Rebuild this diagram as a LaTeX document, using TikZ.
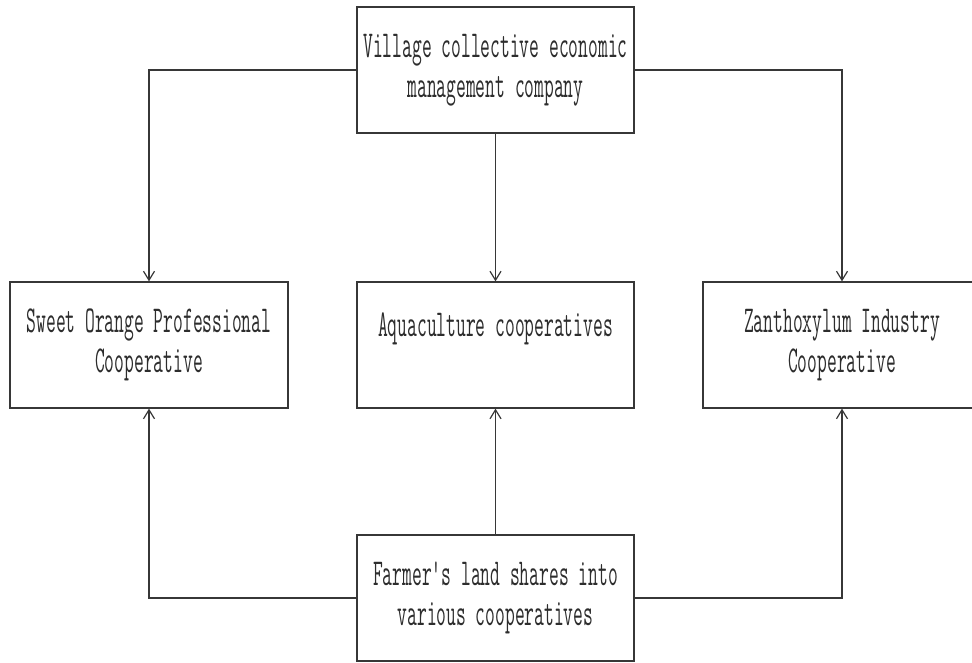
\documentclass[tikz,border=0pt]{standalone}
\usepackage{fontspec}
\setmonofont[FakeStretch=0.5]{Latin Modern Mono}
\usetikzlibrary{arrows.meta,positioning}
\definecolor{LineGray}{RGB}{55,55,55}
\definecolor{TextGray}{RGB}{45,45,45}
\tikzset{
  unit/.style={draw=LineGray,line width=1.3pt,fill=white,minimum width=277pt,
    minimum height=126pt,align=center,inner sep=0pt,text=TextGray,
    font=\ttfamily\fontsize{38}{40}\selectfont},
  link/.style={-{Straight Barb[length=9pt,width=11pt]},line width=1.2pt,LineGray}
}
\begin{document}
\begin{tikzpicture}[x=1pt,y=-1pt]
  \useasboundingbox (0,0) rectangle (972,662);
  \clip (0,0) rectangle (972,662);
  % company on top
  \node[unit] (company) at (495.5,70) {Village collective economic\\management company};

  % the three cooperatives
  \node[unit,minimum width=278pt] (orange) at (149,345) {Sweet Orange Professional\\Cooperative};
  \node[unit] (aqua) at (495.5,345) {Aquaculture cooperatives\\\mbox{}};
  \node[unit,minimum width=278pt] (zanth) at (842,345) {Zanthoxylum Industry\\Cooperative};

  % farmers at the bottom
  \node[unit] (farmer) at (495.5,598) {Farmer's land shares into\\various cooperatives};

  % links
  \draw[link] (company.west) -| (orange.north);
  \draw[link] (company.south) -- (aqua.north);
  \draw[link] (company.east) -| (zanth.north);
  \draw[link] (farmer.west) -| (orange.south);
  \draw[link] (farmer.north) -- (aqua.south);
  \draw[link] (farmer.east) -| (zanth.south);
\end{tikzpicture}
\end{document}
